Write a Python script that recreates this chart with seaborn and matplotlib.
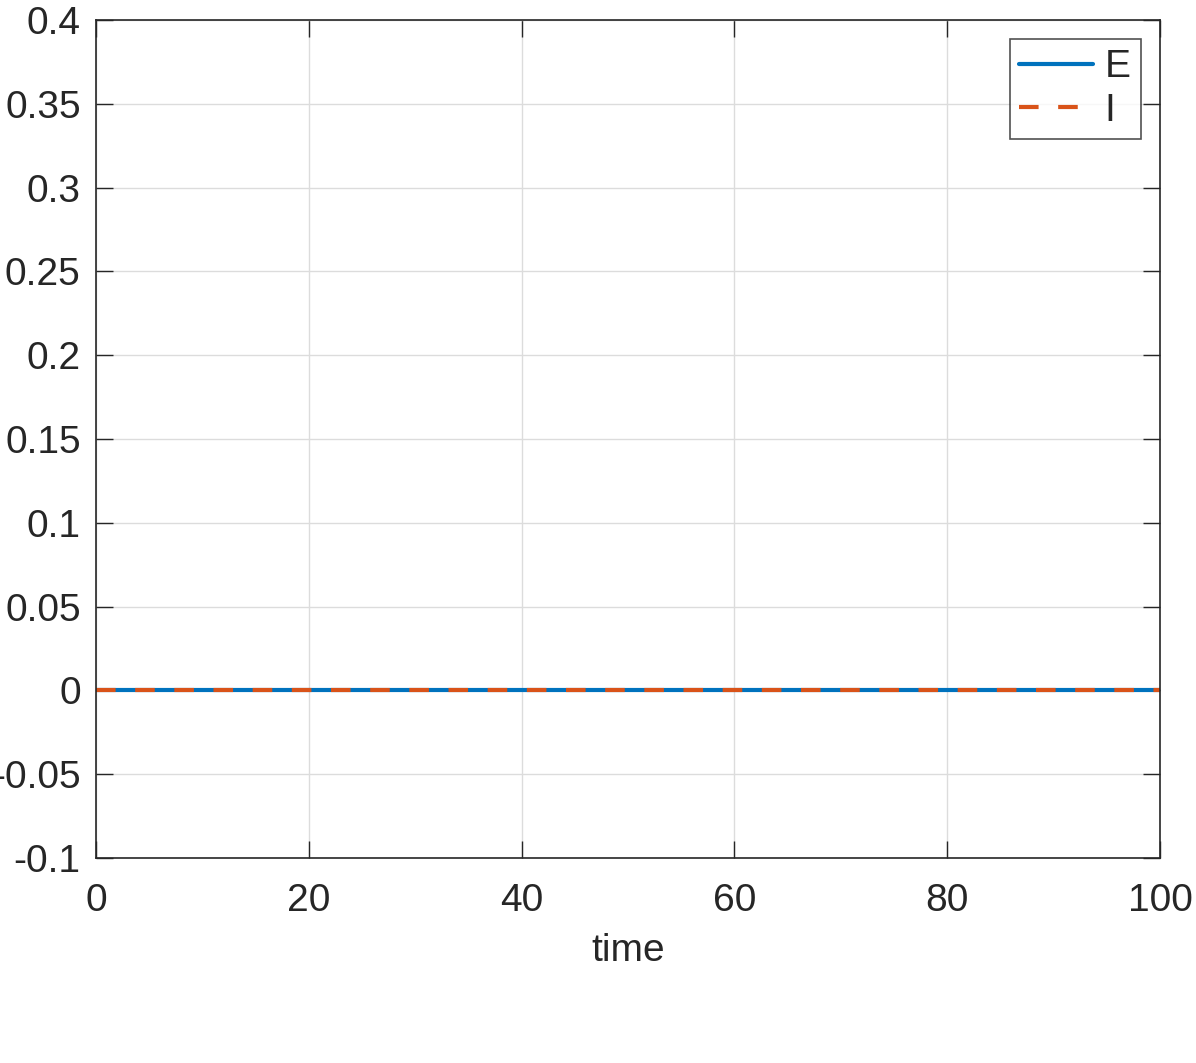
import pandas as pd
import seaborn as sns
import matplotlib.pyplot as plt

time = [0, 100]
E = [0.0, 0.0]
I = [0.0, 0.0]

df = pd.DataFrame({'time': time, 'E': E, 'I': I})

sns.set_style('white')
plt.rcParams['font.family'] = ['Liberation Sans', 'DejaVu Sans']

fig = plt.figure(figsize=(11.96, 10.63), dpi=100)
ax = fig.add_axes([96/1196, 205/1063, 1064/1196, 838/1063])

sns.lineplot(data=df, x='time', y='E', ax=ax, color='#0072BD', linewidth=3, label='E')
sns.lineplot(data=df, x='time', y='I', ax=ax, color='#D95319', linewidth=3, label='I')
ax.lines[1].set_dashes((4.7, 4.7))

ax.set_xlim(0, 100)
ax.set_ylim(-0.1, 0.4)
ax.set_xticks([0, 20, 40, 60, 80, 100])
ax.set_yticks([-0.1, -0.05, 0, 0.05, 0.1, 0.15, 0.2, 0.25, 0.3, 0.35, 0.4])
ax.set_yticklabels(['-0.1', '-0.05', '0', '0.05', '0.1', '0.15', '0.2', '0.25', '0.3', '0.35', '0.4'])
ax.grid(True, color='#dcdcdc', linewidth=1)
ax.set_axisbelow(True)
ax.tick_params(direction='in', length=12, width=1, colors='#262626', labelsize=28,
               top=True, right=True, bottom=True, left=True)
ax.tick_params(axis='x', pad=18)
ax.tick_params(axis='y', pad=11)
for s in ax.spines.values():
    s.set_color('#262626')
    s.set_linewidth(1.2)
ax.set_xlabel('time', fontsize=28, color='#262626', labelpad=10)
ax.set_ylabel('')

leg = ax.legend(loc='upper right', fontsize=28, frameon=True, fancybox=False,
                handlelength=1.9, handletextpad=0.3, borderpad=0.25, labelspacing=0.2,
                borderaxespad=0.5)
leg.get_frame().set_edgecolor('#262626')
leg.get_frame().set_linewidth(1.2)

fig.savefig('out.png', dpi=100)
